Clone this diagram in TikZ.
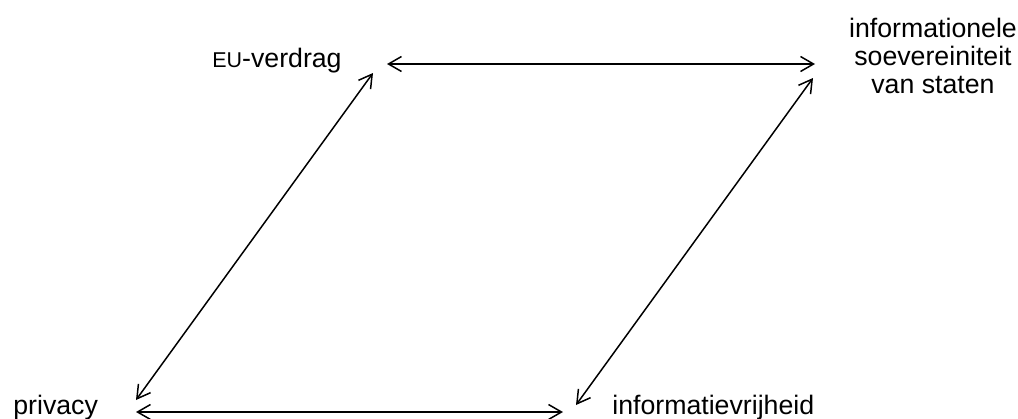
\documentclass[tikz,border=0pt]{standalone}
\usepackage{fontspec}
\setmainfont{Liberation Sans}
\usetikzlibrary{arrows.meta}
\begin{document}
\begin{tikzpicture}[x=0.02cm,y=-0.02cm,
  link/.style={{Straight Barb[length=0.26cm,width=0.3cm]}-{Straight Barb[length=0.26cm,width=0.3cm]}, line width=0.85pt},
  lbl/.style={inner sep=0pt, font=\fontsize{15.2}{15.9}\selectfont}]
\useasboundingbox (0,0) rectangle (1018,419);
% labels
\node[lbl, anchor=base] (eu) at (277,67) {{\fontsize{12.2}{14}\selectfont EU}-verdrag};
\node[lbl, anchor=base, align=center] (soev) at (933,93) {informationele\\soevereiniteit\\van staten};
\node[lbl, anchor=base west] (priv) at (13,414) {privacy};
\node[lbl, anchor=base west] (vrij) at (612,414) {informatievrijheid};
% arrow ends
\coordinate (euR) at (387,64);
\coordinate (euB) at (373,73);
\coordinate (soevL) at (815,64);
\coordinate (soevB) at (813,78);
\coordinate (privT) at (136,400);
\coordinate (privR) at (136,412);
\coordinate (vrijT) at (576,405);
\coordinate (vrijL) at (563,412);
\draw[link] (euR) -- (soevL);
\draw[link] (euB) -- (privT);
\draw[link] (soevB) -- (vrijT);
\draw[link] (privR) -- (vrijL);
\end{tikzpicture}
\end{document}
